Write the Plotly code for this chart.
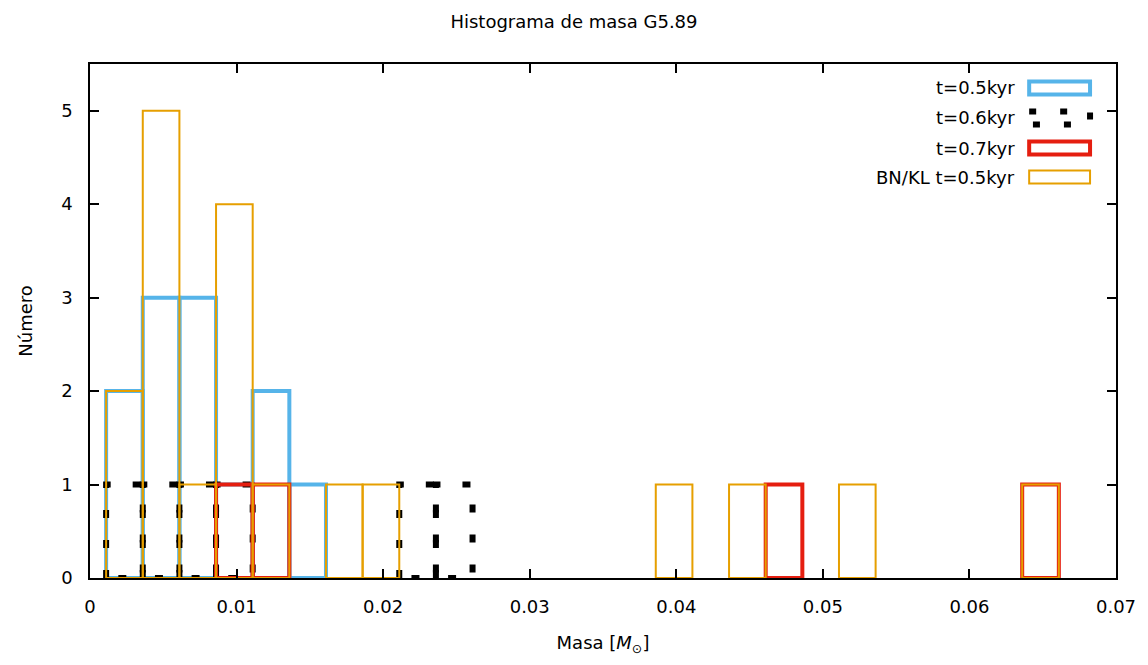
import plotly.graph_objects as go

# ---------------- data ----------------
BIN_WIDTH = 0.0025

blue_centers = [0.00235, 0.00485, 0.00735, 0.00985, 0.01235, 0.01485]
blue_counts = [2, 3, 3, 1, 2, 1]

black_centers = [0.00235, 0.00485, 0.00735, 0.00985, 0.02235, 0.02485]
black_counts = [1, 1, 1, 1, 1, 1]

red_centers = [0.00985, 0.01235, 0.04735, 0.06485]
red_counts = [1, 1, 1, 1]

orange_centers = [0.00235, 0.00485, 0.00735, 0.00985, 0.01235, 0.01735,
                  0.01985, 0.03985, 0.04485, 0.05235, 0.06485]
orange_counts = [2, 5, 1, 4, 1, 1, 1, 1, 1, 1, 1]

series_names = ["t=0.5kyr", "t=0.6kyr", "t=0.7kyr", "BN/KL t=0.5kyr"]
x_ticks = [0, 0.01, 0.02, 0.03, 0.04, 0.05, 0.06, 0.07]
x_tick_labels = ["0", "0.01", "0.02", "0.03", "0.04", "0.05", "0.06", "0.07"]
y_ticks = [0, 1, 2, 3, 4, 5]

# ---------------- styles ----------------
BLUE = "#56b4e9"
RED = "#e51e10"
ORANGE = "#e69f00"
BLACK = "#000000"
FONT = "DejaVu Sans"
FS = 18

W, H = 1148, 665
ML, MR, MT, MB = 90, 30, 64, 87


def box_path(centers, counts, width):
    xs, ys = [], []
    for c, n in zip(centers, counts):
        l, r = c - width / 2, c + width / 2
        xs += [l, l, r, r, l, None]
        ys += [0, n, n, 0, 0, None]
    return xs, ys


fig = go.Figure()
styles = [
    (blue_centers, blue_counts, dict(color=BLUE, width=4)),
    (black_centers, black_counts, dict(color=BLACK, width=6, dash="8px,22px")),
    (red_centers, red_counts, dict(color=RED, width=4)),
    (orange_centers, orange_counts, dict(color=ORANGE, width=2)),
]
for (cs, ns, ln), name in zip(styles, series_names):
    xs, ys = box_path(cs, ns, BIN_WIDTH)
    fig.add_trace(go.Scatter(x=xs, y=ys, mode="lines", line=ln, name=name,
                             showlegend=False, hoverinfo="skip", connectgaps=False))

# ---------------- manual gnuplot-style key ----------------
pw, ph = W - ML - MR, H - MT - MB


def px(x):
    return (x - ML) / pw


def py(y):
    return (H - MB - y) / ph


rows_y = [88, 118, 148, 177]
key_styles = [dict(color=BLUE, width=4), dict(color=BLACK, width=6, dash="7px,24px"),
              dict(color=RED, width=4), dict(color=ORANGE, width=2)]
for name, yc, ln in zip(series_names, rows_y, key_styles):
    fig.add_annotation(x=px(1019), y=py(yc), xref="paper", yref="paper", text=name,
                       showarrow=False, xanchor="right", yanchor="middle",
                       font=dict(family=FONT, size=FS, color="black"))
    fig.add_shape(type="rect", xref="paper", yref="paper",
                  x0=px(1031), x1=px(1092), y0=py(yc - 6.5), y1=py(yc + 6.5),
                  line=ln, fillcolor="rgba(0,0,0,0)")

fig.update_layout(
    width=W, height=H,
    margin=dict(l=ML, r=MR, t=MT, b=MB),
    paper_bgcolor="white", plot_bgcolor="white",
    font=dict(family=FONT, size=FS, color="black"),
    title=dict(text="Histograma de masa G5.89", x=0.5, xanchor="center",
               y=1 - 22 / H, yref="container", yanchor="middle",
               font=dict(family=FONT, size=FS, color="black")),
    xaxis=dict(range=[0, 0.07], tickvals=x_ticks, ticktext=x_tick_labels,
               ticks="inside", ticklen=9, tickwidth=1.5, tickcolor="black",
               showline=True, linecolor="black", linewidth=1.5, mirror="ticks",
               showgrid=False, zeroline=False, ticklabelstandoff=12,
               title=dict(text="Masa [<i>M</i><sub>⊙</sub>]", standoff=20,
                          font=dict(family=FONT, size=FS))),
    yaxis=dict(range=[0, 5.5], tickvals=y_ticks,
               ticks="inside", ticklen=9, tickwidth=1.5, tickcolor="black",
               showline=True, linecolor="black", linewidth=1.5, mirror="ticks",
               showgrid=False, zeroline=False, ticklabelstandoff=12,
               title=dict(text="Número", standoff=24,
                          font=dict(family=FONT, size=FS))),
)

fig.write_html("out.html")
